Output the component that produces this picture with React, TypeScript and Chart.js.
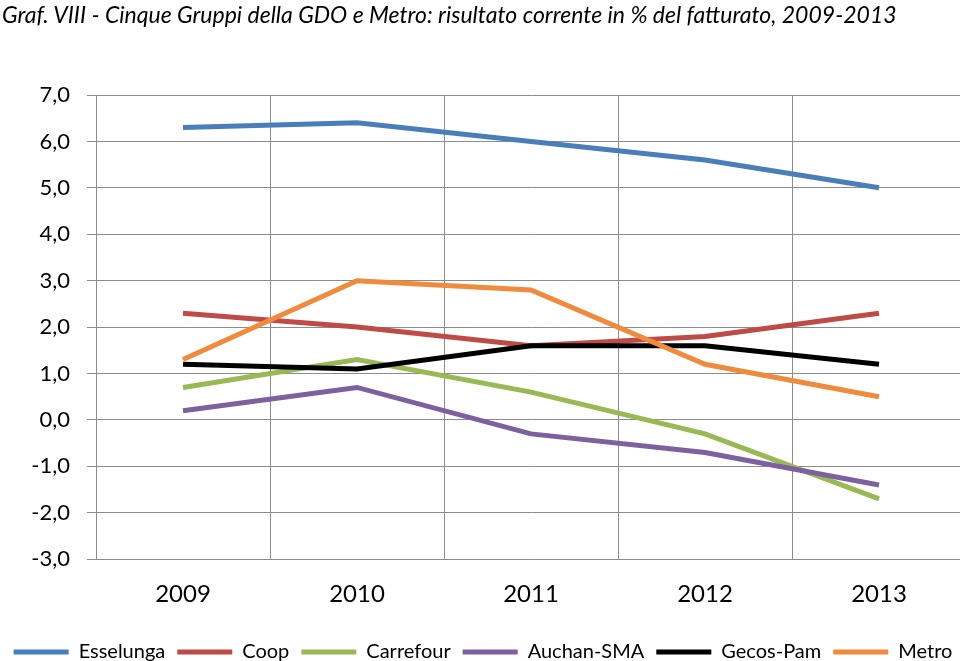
import React, { useEffect, useRef } from "react";
import { Chart, registerables } from "chart.js";

Chart.register(...registerables);

const TITLE = "Graf. VIII - Cinque Gruppi della GDO e Metro: risultato corrente in % del fatturato, 2009-2013";
const years = ["2009", "2010", "2011", "2012", "2013"];
const esselunga = [6.3, 6.4, 6.0, 5.6, 5.0];
const coop = [2.3, 2.0, 1.6, 1.8, 2.3];
const carrefour = [0.7, 1.3, 0.6, -0.3, -1.7];
const auchan = [0.2, 0.7, -0.3, -0.7, -1.4];
const gecos = [1.2, 1.1, 1.6, 1.6, 1.2];
const metro = [1.3, 3.0, 2.8, 1.2, 0.5];

const seriesNames = ["Esselunga", "Coop", "Carrefour", "Auchan-SMA", "Gecos-Pam", "Metro"];
const seriesData = [esselunga, coop, carrefour, auchan, gecos, metro];
const seriesColors = ["#4A7EBB", "#BE4B48", "#98B954", "#7D60A0", "#000000", "#F08A3C"];

const FONT = "Lato, 'Open Sans', sans-serif";

export default function App() {
  const ref = useRef<HTMLCanvasElement>(null);
  useEffect(() => {
    if (!ref.current) return;
    const chart = new Chart(ref.current, {
      type: "line",
      data: {
        labels: years,
        datasets: seriesData.map((d, i) => ({
          label: seriesNames[i],
          data: d,
          borderColor: seriesColors[i],
          backgroundColor: seriesColors[i],
          borderWidth: 5,
          pointRadius: 0,
          tension: 0,
          fill: false,
          order: seriesData.length - i,
        })),
      },
      options: {
        animation: false,
        responsive: false,
        maintainAspectRatio: false,
        layout: { padding: { top: 95, left: 0, right: 4, bottom: 4 } },
        plugins: {
          title: { display: false },
          tooltip: { enabled: false },
          legend: {
            position: "bottom",
            sort: (a: any, b: any) => a.datasetIndex - b.datasetIndex,
            labels: {
              boxWidth: 55,
              boxHeight: 5,
              padding: 12,
              color: "#000",
              font: { family: FONT, size: 20 },
              generateLabels: (c: any) =>
                c.data.datasets.map((ds: any, i: number) => ({
                  text: ds.label,
                  fillStyle: ds.borderColor,
                  strokeStyle: ds.borderColor,
                  lineWidth: 0,
                  fontColor: "#000",
                  datasetIndex: i,
                  hidden: false,
                })),
            },
          },
        },
        scales: {
          x: {
            offset: true,
            grid: { offset: true, color: "#8C8C8C", lineWidth: 1, drawTicks: false },
            border: { display: true, color: "#8C8C8C" },
            ticks: { color: "#000", font: { family: FONT, size: 24 }, padding: 21 },
          },
          y: {
            min: -3,
            max: 7,
            grid: { color: "#8C8C8C", lineWidth: 1, tickLength: 9 },
            border: { display: true, color: "#8C8C8C" },
            ticks: {
              stepSize: 1,
              color: "#000",
              padding: 17,
              font: { family: FONT, size: 22 },
              callback: (v: any) => Number(v).toFixed(1).replace(".", ","),
            },
            afterFit: (s: any) => {
              s.width = 96;
            },
          },
        },
      },
    });
    return () => chart.destroy();
  }, []);
  return (
    <div style={{ position: "absolute", left: 0, top: 0, width: 960, height: 661, overflow: "hidden", background: "#fff" }}>
      <canvas ref={ref} width={970} height={676} style={{ position: "absolute", left: 0, top: 0 }} />
      <div
        style={{
          position: "absolute",
          left: 2,
          top: 0,
          fontFamily: FONT,
          fontStyle: "italic",
          fontSize: 23,
          lineHeight: "28px",
          color: "#000",
          whiteSpace: "nowrap",
        }}
      >
        {TITLE}
      </div>
    </div>
  );
}
